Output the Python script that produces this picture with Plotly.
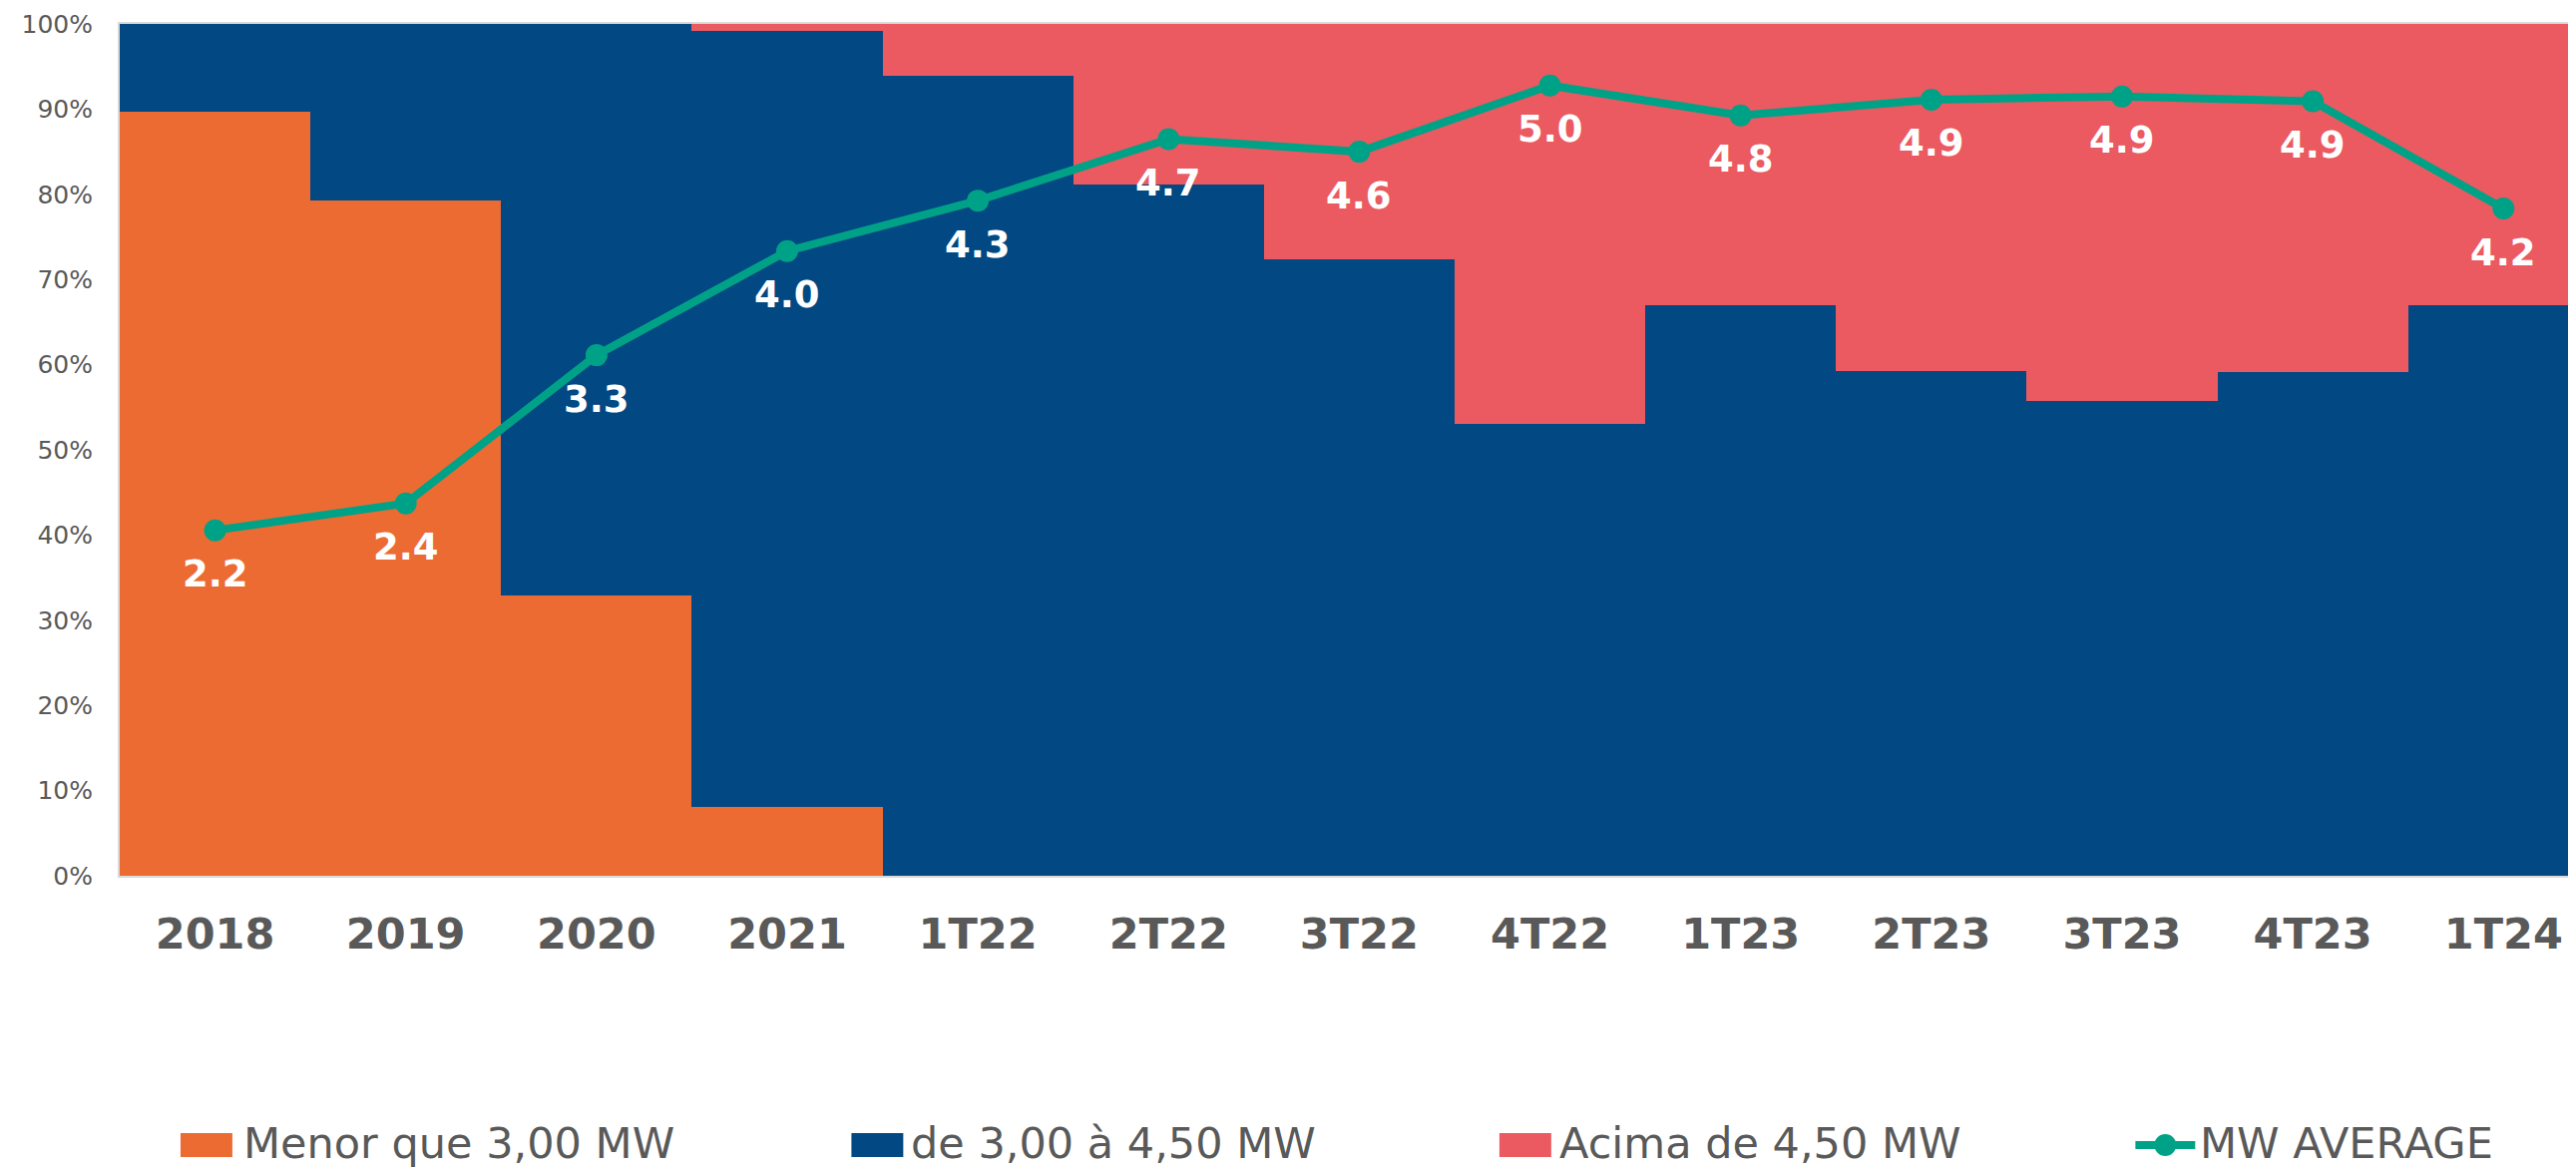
import plotly.graph_objects as go

# ---------------- data ----------------
categories = ["2018", "2019", "2020", "2021", "1T22", "2T22", "3T22",
              "4T22", "1T23", "2T23", "3T23", "4T23", "1T24"]
menor_3mw = [89.7, 79.3, 32.9, 8.1, 0, 0, 0, 0, 0, 0, 0, 0, 0]
de_3_a_4_5mw = [10.3, 20.7, 67.1, 91.1, 93.9, 81.2, 72.4, 53.0, 67.0, 59.3, 55.7, 59.1, 67.0]
acima_4_5mw = [0, 0, 0, 0.8, 6.1, 18.8, 27.6, 47.0, 33.0, 40.7, 44.3, 40.9, 33.0]
mw_average = [2.19, 2.36, 3.30, 3.96, 4.28, 4.67, 4.59, 5.01, 4.82, 4.92, 4.94, 4.91, 4.23]
y_ticks = [0, 10, 20, 30, 40, 50, 60, 70, 80, 90, 100]
series_names = ["Menor que 3,00 MW", "de 3,00 à 4,50 MW", "Acima de 4,50 MW", "MW AVERAGE"]

# ---------------- style ----------------
PAGE_OFF = 8                       # default body margin of the html page
W, H = 2582 - PAGE_OFF, 1174 - PAGE_OFF
PLOT_L, PLOT_T, PLOT_B = 120, 24, 878   # page pixel coordinates of the plot area
ML = PLOT_L - PAGE_OFF
MT = PLOT_T - PAGE_OFF
MB = (H + PAGE_OFF) - PLOT_B
MR = 0
ORANGE = "#EC6B33"
NAVY = "#024882"
RED = "#EA5A60"
TEAL = "#00A287"
GRAY = "#595959"
FONT = "DejaVu Sans"

fig = go.Figure()
for name, vals, col in [(series_names[0], menor_3mw, ORANGE),
                        (series_names[1], de_3_a_4_5mw, NAVY),
                        (series_names[2], acima_4_5mw, RED)]:
    fig.add_trace(go.Bar(x=categories, y=vals, name=name, marker=dict(color=col, line=dict(width=0)),
                         showlegend=False, hoverinfo="skip"))

fig.add_trace(go.Scatter(x=categories, y=mw_average, name=series_names[3], yaxis="y2",
                         mode="lines+markers", line=dict(color=TEAL, width=8),
                         marker=dict(color=TEAL, size=22), showlegend=False))

# value labels below markers (x given as category index)
for i, v in enumerate(mw_average):
    fig.add_annotation(x=i, y=v, xref="x", yref="y2", text=f"{v:.1f}", showarrow=False,
                       yshift=-44, font=dict(family=FONT, size=37, color="white", weight="bold"))

# custom legend (paper coords computed from page pixels)
pw = 2582 - PLOT_L
ph = PLOT_B - PLOT_T


def px_x(x):
    return (x - PLOT_L) / pw


def px_y(y):
    return (PLOT_B - y) / ph


leg_y = 1148
swatches = [(181, ORANGE, series_names[0], 242),
            (854, NAVY, series_names[1], 912),
            (1504, RED, series_names[2], 1562)]
for x0, col, name, tx in swatches:
    fig.add_shape(type="rect", xref="paper", yref="paper",
                  x0=px_x(x0), x1=px_x(x0 + 52), y0=px_y(leg_y - 12), y1=px_y(leg_y + 12),
                  fillcolor=col, line=dict(width=0))
    fig.add_annotation(xref="paper", yref="paper", x=px_x(tx), y=px_y(leg_y - 2), text=name,
                       showarrow=False, xanchor="left", yanchor="middle",
                       font=dict(family=FONT, size=43, color=GRAY))
fig.add_shape(type="line", xref="paper", yref="paper", x0=px_x(2142), x1=px_x(2202),
              y0=px_y(leg_y), y1=px_y(leg_y), line=dict(color=TEAL, width=8))
fig.add_shape(type="circle", xref="paper", yref="paper", x0=px_x(2161), x1=px_x(2183),
              y0=px_y(leg_y - 11), y1=px_y(leg_y + 11), fillcolor=TEAL, line=dict(width=0))
fig.add_annotation(xref="paper", yref="paper", x=px_x(2205), y=px_y(leg_y - 2), text=series_names[3],
                   showarrow=False, xanchor="left", yanchor="middle",
                   font=dict(family=FONT, size=43, color=GRAY))

fig.update_layout(
    width=W, height=H,
    margin=dict(l=ML, r=MR, t=MT, b=MB, pad=0),
    barmode="stack", bargap=0,
    paper_bgcolor="white", plot_bgcolor="white",
    font=dict(family=FONT, color=GRAY),
    showlegend=False,
    xaxis=dict(type="category", range=[-0.5, 12.37], showgrid=False, zeroline=False,
               showline=True, linecolor="#D9D9D9", linewidth=2, mirror=True,
               ticks="outside", ticklen=19, tickcolor="rgba(0,0,0,0)",
               tickfont=dict(family=FONT, size=43, color=GRAY, weight="bold")),
    yaxis=dict(range=[0, 100], tickvals=y_ticks, ticktext=[f"{t}%" for t in y_ticks],
               showgrid=False, zeroline=False, showline=True, linecolor="#D9D9D9", linewidth=2,
               mirror=True, ticks="outside", ticklen=20, tickcolor="rgba(0,0,0,0)",
               tickfont=dict(family=FONT, size=25, color=GRAY)),
    yaxis2=dict(overlaying="y", range=[0, 5.4], visible=False),
)

fig.write_html("out.html")
